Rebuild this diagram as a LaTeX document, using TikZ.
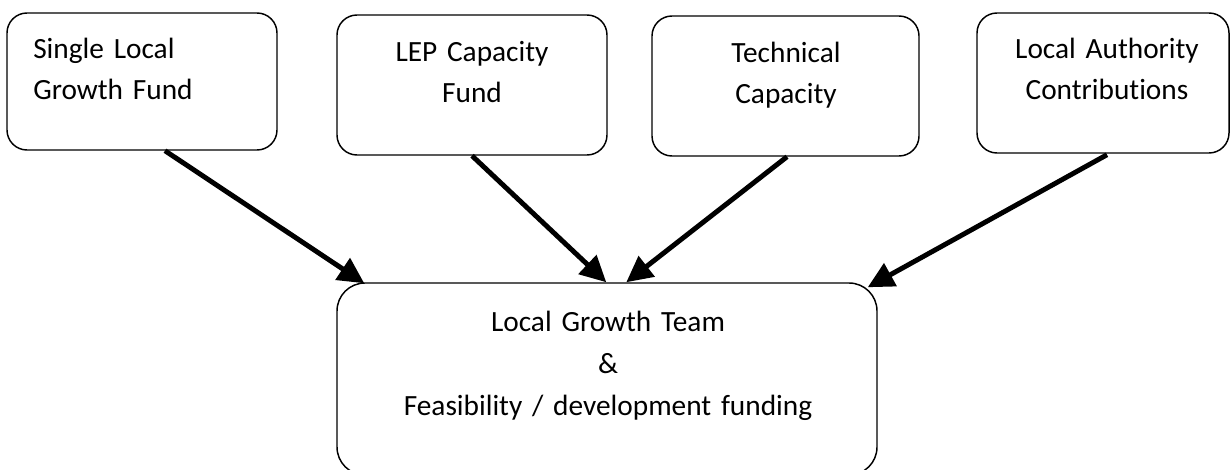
\documentclass[tikz,border=0pt]{standalone}
\usepackage{fontspec}
\setmainfont{Carlito}[Ligatures=NoCommon]
\usetikzlibrary{arrows.meta,calc}
\begin{document}
\begin{tikzpicture}[x=0.75pt,y=-0.75pt,
  box/.style={draw, line width=1.1pt, rounded corners=15pt, inner sep=0pt},
  lbl/.style={inner sep=0pt, font=\fontsize{22}{30.5}\selectfont, text width=190pt, align=center},
  arr/.style={line width=3.7pt, -{Triangle[length=19.5pt,width=19pt]}}]
\useasboundingbox (0,0) rectangle (1230,470);
\clip (0,0) rectangle (1230,470);
\node[box, minimum width=202.5pt, minimum height=102.75pt] (b1) at (142,81.5) {};
\node[box, minimum width=202.5pt, minimum height=105pt] (b2) at (472,85) {};
\node[box, minimum width=200.25pt, minimum height=105pt] (b3) at (785.5,86) {};
\node[box, minimum width=189pt, minimum height=105pt] (b4) at (1103,83) {};
\node[box, rounded corners=21pt, minimum width=405pt, minimum height=144pt] (bot) at (607,379) {};
\node[lbl, anchor=base west, align=left] (t1) at (33,59) {Single Local\\Growth Fund};
\node[lbl, anchor=base] (t2) at (472,62) {LEP Capacity\\Fund};
\node[lbl, anchor=base] (t3) at (786,63) {Technical\\Capacity};
\node[lbl, anchor=base] (t4) at (1107,59) {Local Authority\\Contributions};
\node[lbl, anchor=base, text width=390pt, font=\fontsize{22}{31.5}\selectfont] (t5) at (608,331) {Local Growth Team\\\&\\Feasibility / development funding};
\draw[arr] ($(b1.south)+(23,0)$) -- ($(bot.north west)+(28,1)$);
\draw[arr] (b2.south) -- ($(bot.north west)+(270,0)$);
\draw[arr] ($(b3.south)+(1.5,0)$) -- ($(bot.north west)+(290,0)$);
\draw[arr] ($(b4.south)+(4,1)$) -- ($(bot.north east)+(-10,5)$);
\end{tikzpicture}
\end{document}
